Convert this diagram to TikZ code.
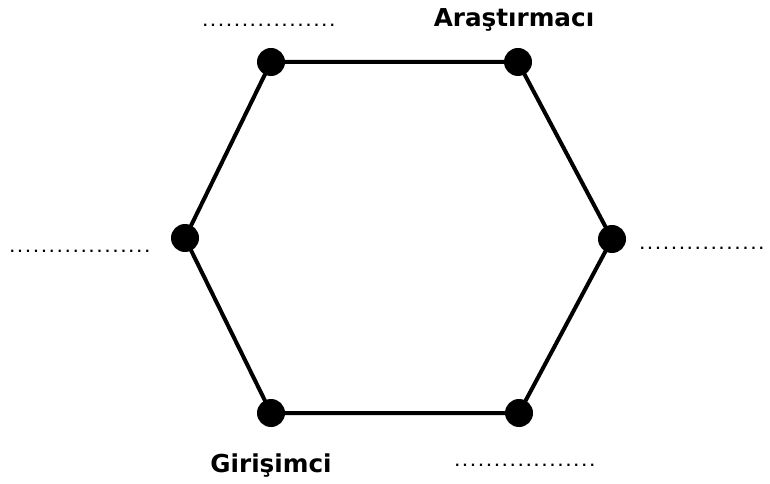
\documentclass[tikz,border=0pt]{standalone}
\usepackage{fontspec}
\setmainfont{DejaVu Sans}
\newfontfamily\dotfont{DejaVu Sans Mono}
\usetikzlibrary{positioning}

\begin{document}
\begin{tikzpicture}[
  x=0.75pt, y=-0.75pt,
  vertex/.style={circle, fill=black, inner sep=0pt, minimum size=21pt},
  side/.style={line width=3pt},
  role/.style={font=\bfseries\fontsize{18.5}{22}\selectfont, anchor=base, inner sep=0pt},
  blank/.style={font=\dotfont\bfseries\fontsize{9.9}{12}\selectfont, anchor=base west, inner sep=0pt}
]
\useasboundingbox (0,0) rectangle (770,484);
\node[vertex] (tl) at (271,62) {};
\node[vertex] (tr) at (518,62) {};
\node[vertex] (r)  at (612,239) {};
\node[vertex] (br) at (519,413) {};
\node[vertex] (bl) at (271,413) {};
\node[vertex] (l)  at (185,238) {};
\draw[side] (tl.center) -- (tr.center) -- (r.center) -- (br.center) -- (bl.center) -- (l.center) -- cycle;

\node[role] (arastirmaci) at (514,27) {Araştırmacı};
\node[role] (girisimci) at (271,472) {Girişimci};
\node[blank] (topblank) at (201,27) {.................};
\node[blank] (leftblank) at (8,253) {..................};
\node[blank] (rightblank) at (638,250) {................};
\node[blank] (bottomblank) at (453,466) {..................};
\end{tikzpicture}
\end{document}
